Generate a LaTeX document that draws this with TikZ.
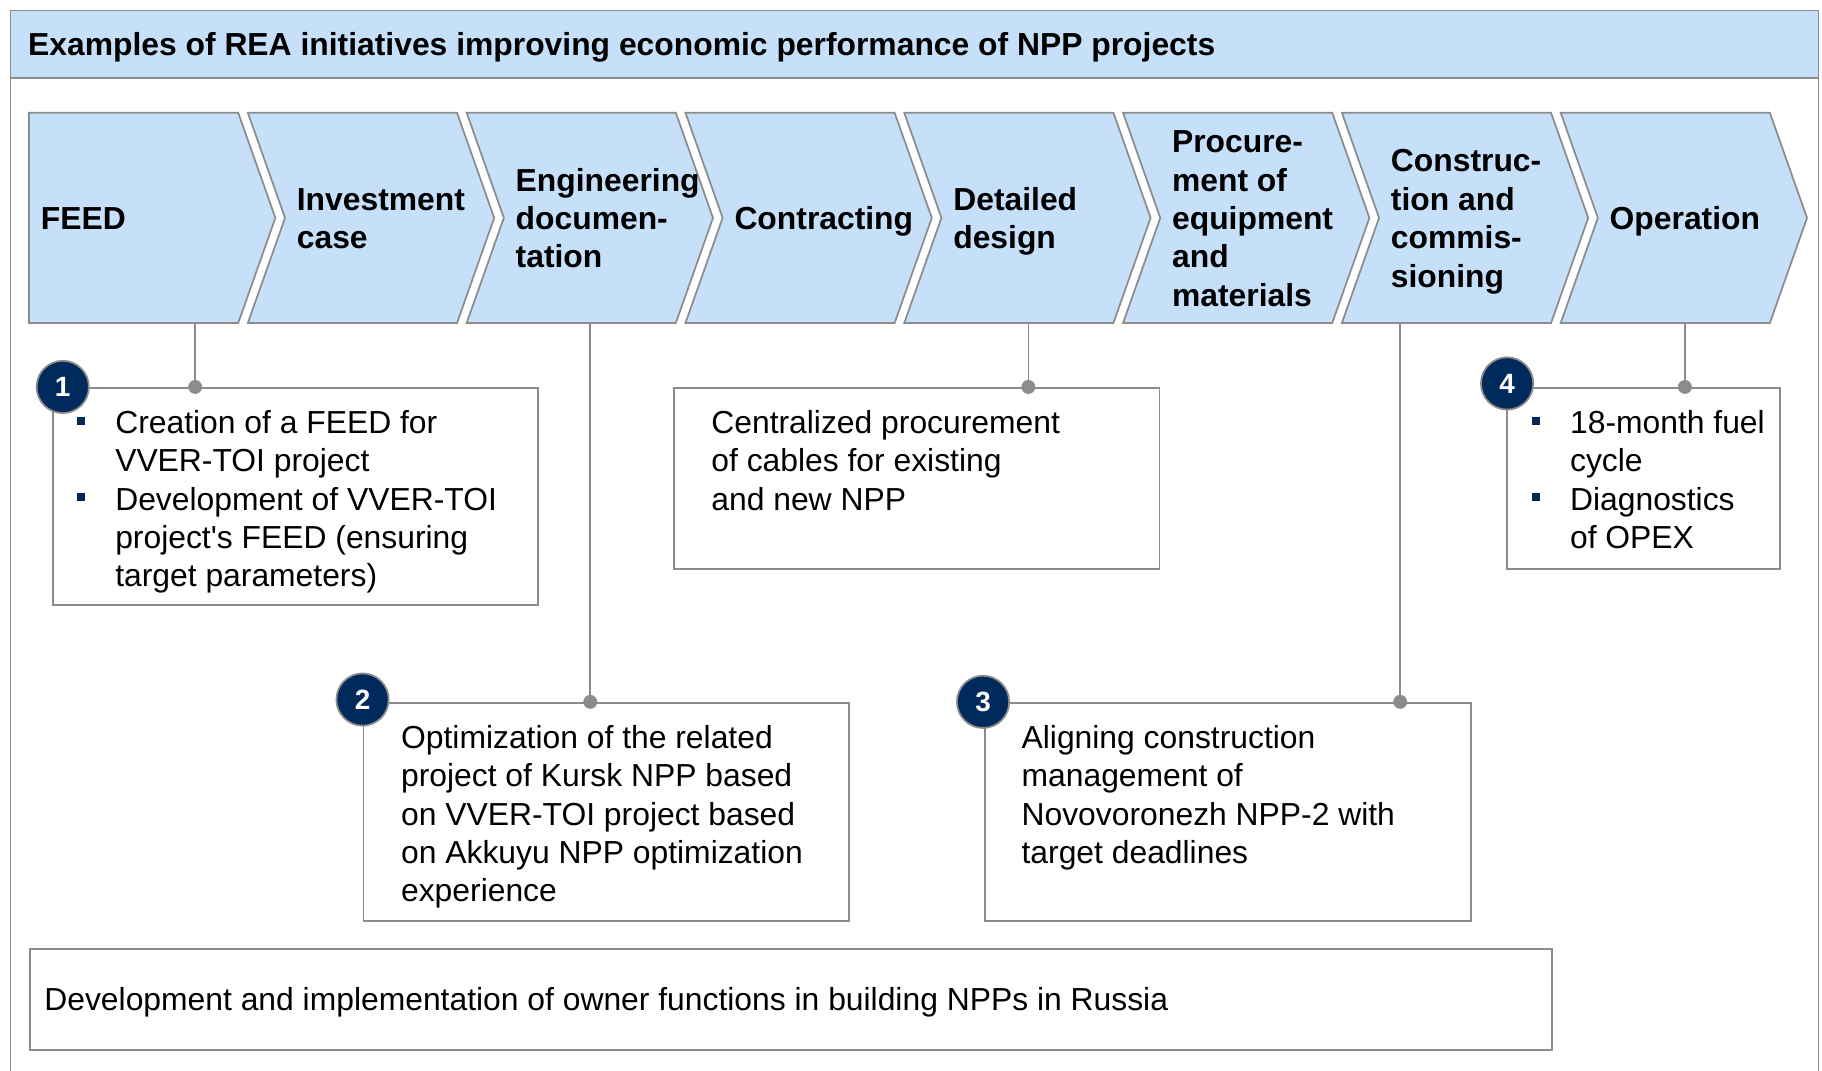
\documentclass[tikz,border=0pt]{standalone}
\usepackage{fontspec}
\setmainfont{Liberation Sans}[Ligatures=TeXOff]
\definecolor{chevfill}{RGB}{198,224,250}
\definecolor{navy}{RGB}{0,42,92}
\definecolor{linegray}{RGB}{140,140,140}

% small navy square used as list bullet
\newcommand\bsq{\makebox[33pt][l]{\raisebox{7.5pt}{\textcolor{navy}{\rule{7pt}{7pt}}}}}
\newcommand\bitem{\par\noindent\hangindent=33pt\hangafter=1\bsq}

\begin{document}
\begin{tikzpicture}[x=1pt,y=-1pt,
  frame/.style={draw=linegray, line width=1.5pt},
  chev/.style={draw=linegray, fill=chevfill, line width=1.5pt, line join=miter},
  box/.style={draw=linegray, line width=1.5pt, fill=white, rectangle, inner sep=0pt, anchor=north west},
  txt/.style={anchor=base west, inner sep=0pt, font=\fontsize{27.4}{33}\selectfont},
  btxt/.style={anchor=base west, inner sep=0pt, font=\fontsize{27.4}{33}\selectfont\bfseries},
  link/.style={draw=linegray, line width=1.5pt},
  dot/.style={circle, fill=linegray, inner sep=0pt, minimum size=12pt},
  badge/.style={circle, fill=navy, draw=linegray, line width=1.5pt, minimum size=45pt, inner sep=0pt, text=white, font=\fontsize{24}{24}\selectfont\bfseries}]

\useasboundingbox (0,0) rectangle (1568,921);

% outer frame with title band
\fill[chevfill] (9,9) rectangle (1565,67);
\draw[frame] (9,930) -- (9,9) -- (1565,9) -- (1565,930);
\draw[frame] (9,67) -- (1565,67);
\node[btxt] (title) at (24,48) {Examples of REA initiatives improving economic performance of NPP projects};

% process chevrons
\draw[chev] (25,97) -- (205,97) -- (237,187.5) -- (205,278) -- (25,278) -- cycle;
\foreach \L in {213.3,401.6,589.9,778.2,966.5,1154.8,1343.1}{
  \draw[chev] (\L,97) -- ++(180,0) -- ++(32,90.5) -- ++(-32,90.5) -- ++(-180,0) -- ++(32,-90.5) -- cycle;
}
\node[btxt] (p0) at (35,197.5) {FEED};
\node[btxt] (p1) at (255.3,181) {\parbox[t]{200pt}{\raggedright Investment\\case}};
\node[btxt] (p2) at (443.6,164.5) {\parbox[t]{200pt}{\raggedright Engineering\\documen-\\tation}};
\node[btxt] (p3) at (631.9,197.5) {Contracting};
\node[btxt] (p4) at (820.2,181) {\parbox[t]{200pt}{\raggedright Detailed\\design}};
\node[btxt] (p5) at (1008.5,131.5) {\parbox[t]{200pt}{\raggedright Procure-\\ment of\\equipment\\and\\materials}};
\node[btxt] (p6) at (1196.8,148) {\parbox[t]{200pt}{\raggedright Construc-\\tion and\\commis-\\sioning}};
\node[btxt] (p7) at (1385.1,197.5) {Operation};

% attachment points under the chevrons
\coordinate (k0) at (168,278);
\coordinate (k2) at (508,278);
\coordinate (k4) at (885,278);
\coordinate (k6) at (1205,278);
\coordinate (k7) at (1450,278);

% initiative boxes
\node[box, minimum width=417pt, minimum height=187pt] (b1) at (45,333) {};
\node[box, minimum width=418pt, minimum height=156pt] (bc) at (579,333) {};
\node[box, minimum width=235pt, minimum height=156pt] (b4) at (1296,333) {};
\node[box, minimum width=418pt, minimum height=188pt] (b2) at (312,604) {};
\node[box, minimum width=418pt, minimum height=188pt] (b3) at (847,604) {};
\node[box, minimum width=1310pt, minimum height=87pt] (bb) at (25,816) {};

% connectors from the stages to the boxes
\draw[link] (k0) -- (k0 |- b1.north);
\draw[link] (k4) -- (k4 |- bc.north);
\draw[link] (k7) -- (k7 |- b4.north);
\draw[link] (k2) -- (k2 |- b2.north);
\draw[link] (k6) -- (k6 |- b3.north);
\node[dot] (d1) at (k0 |- b1.north) {};
\node[dot] (dc) at (k4 |- bc.north) {};
\node[dot] (d4) at (k7 |- b4.north) {};
\node[dot] (d2) at (k2 |- b2.north) {};
\node[dot] (d3) at (k6 |- b3.north) {};

% box texts
\node[txt] (t1) at (66,373) {\parbox[t]{400pt}{%
  \bitem Creation of a FEED for\\VVER-TOI project
  \bitem Development of VVER-TOI\\project's FEED (ensuring\\target parameters)}};
\node[txt] (tc) at (612,373) {\parbox[t]{400pt}{\raggedright Centralized procurement\\of cables for existing\\and new NPP}};
\node[txt] (t4) at (1318,373) {\parbox[t]{300pt}{%
  \bitem 18-month fuel\\cycle
  \bitem Diagnostics\\of OPEX}};
\node[txt] (t2) at (345,644) {\parbox[t]{400pt}{\raggedright Optimization of the related\\project of Kursk NPP based\\on VVER-TOI project based\\on Akkuyu NPP optimization\\experience}};
\node[txt] (t3) at (879,644) {\parbox[t]{400pt}{\raggedright Aligning construction\\management of\\Novovoronezh NPP-2 with\\target deadlines}};
\node[txt] (tb) at (38,870) {Development and implementation of owner functions in building NPPs in Russia};

% numbered badges
\node[badge] (n1) at (54,333) {1};
\node[badge] (n2) at (312,602) {2};
\node[badge] (n3) at (846,604) {3};
\node[badge] (n4) at (1297,330) {4};
\end{tikzpicture}
\end{document}
